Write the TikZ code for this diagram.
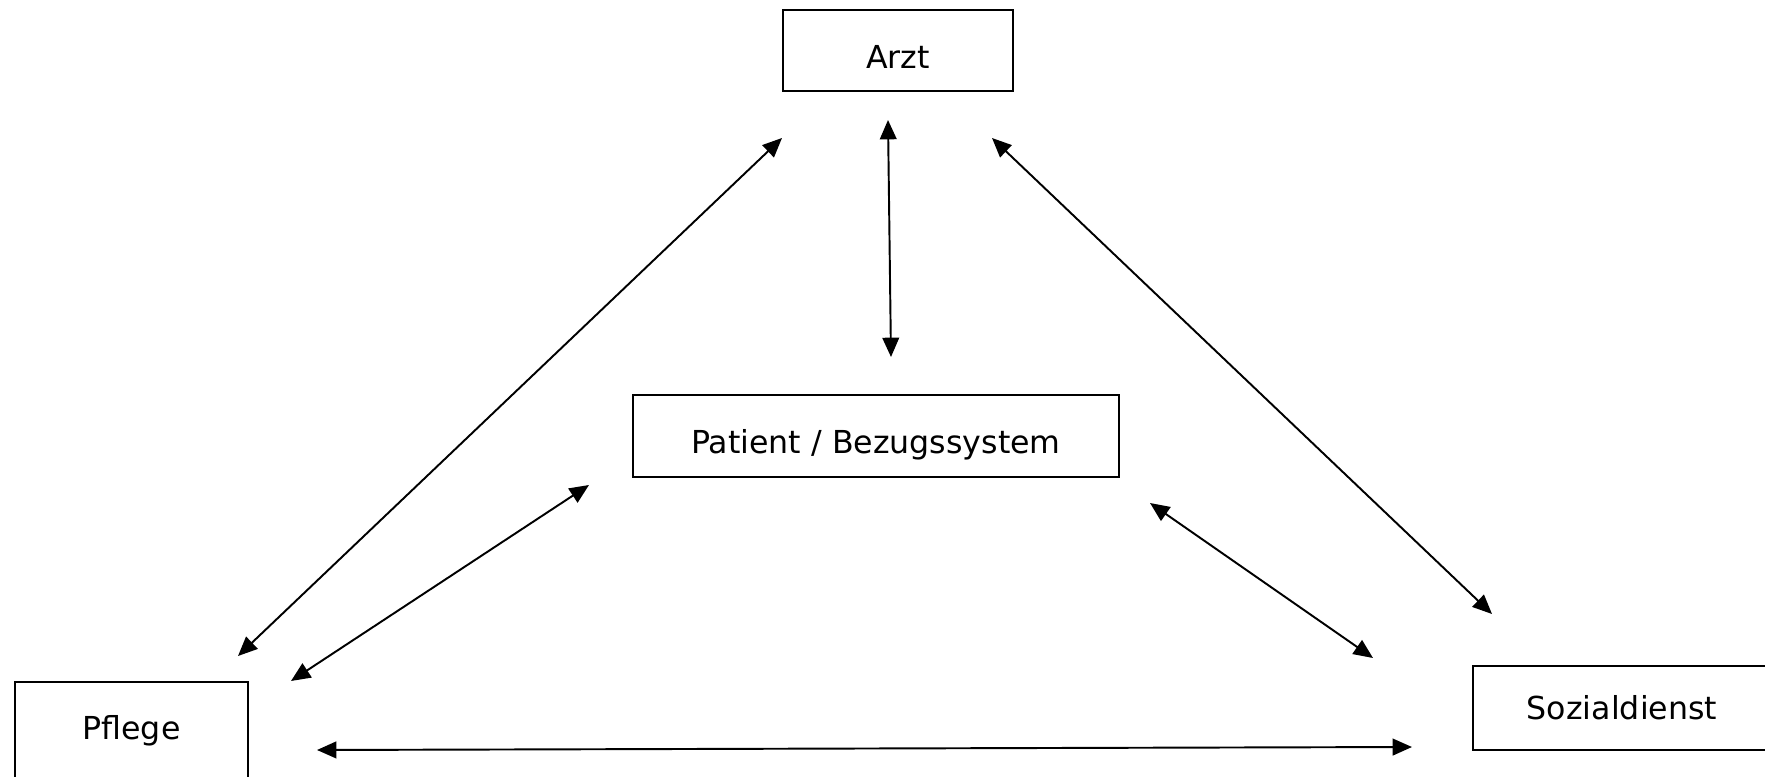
\documentclass[tikz,border=0pt]{standalone}
\usepackage{fontspec}
\setmainfont{DejaVu Sans}
\usetikzlibrary{arrows.meta}
\begin{document}
\begin{tikzpicture}[x=0.02cm, y=-0.02cm,
		box/.style={draw=black, line width=1pt, inner sep=0pt, font=\fontsize{18}{22}\selectfont},
		lowtext/.style={text height=20pt, text depth=0pt},
		link/.style={black, line width=1.1pt, {Triangle[length=11pt,width=9.5pt]}-{Triangle[length=11pt,width=9.5pt]}}]
		\clip (0,0) rectangle (1765,777); % Seitenrand
		% Kaesten
		\node [box, lowtext, minimum width=4.6cm, minimum height=1.62cm] (arzt) at (898,50.5) {Arzt};
		\node [box, lowtext, minimum width=9.72cm, minimum height=1.64cm] (patient) at (876,436) {Patient / Bezugssystem};
		\node [box, minimum width=4.66cm, minimum height=1.96cm] (pflege) at (131.5,731) {Pflege};
		\node [box, minimum width=5.96cm, minimum height=1.68cm] (sozial) at (1622,708) {Sozialdienst};
		% Pfeilenden
		\coordinate (arztS) at (888,120);   \coordinate (patN) at (891,357);
		\coordinate (arztSW) at (782,138);  \coordinate (pflNE) at (238,656);
		\coordinate (arztSE) at (992,138);  \coordinate (sozNW) at (1492,614);
		\coordinate (patSW) at (589,485);   \coordinate (pflE) at (291,681);
		\coordinate (patSE) at (1150,503);  \coordinate (sozW) at (1373,658);
		\coordinate (pflR) at (317,750);    \coordinate (sozL) at (1412,747);
		% Pfeile
		\draw [link] (arztS) -- (patN);
		\draw [link] (pflNE) -- (arztSW);
		\draw [link] (arztSE) -- (sozNW);
		\draw [link] (pflE) -- (patSW);
		\draw [link] (patSE) -- (sozW);
		\draw [link] (pflR) -- (sozL);
\end{tikzpicture}
\end{document}
